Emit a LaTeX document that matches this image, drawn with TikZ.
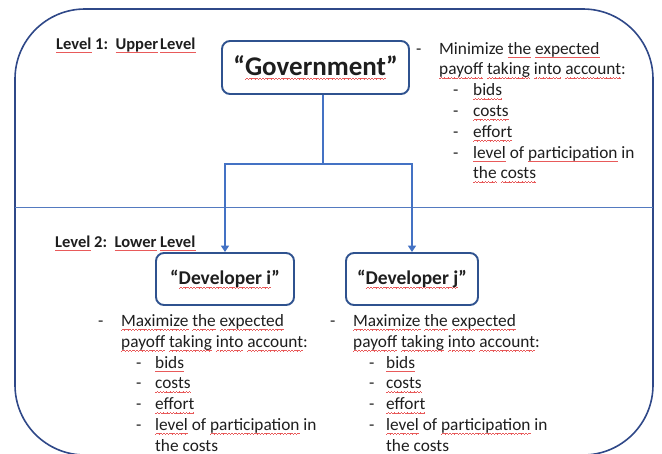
\documentclass[tikz,border=0pt]{standalone}
\usepackage{fontspec}
\setmainfont{Carlito}
\usetikzlibrary{arrows.meta}

\definecolor{framecol}{RGB}{47,72,136}
\definecolor{boxcol}{RGB}{47,82,143}
\definecolor{linkcol}{RGB}{68,114,196}
\definecolor{sepcol}{RGB}{84,122,192}
\definecolor{inkcol}{RGB}{30,30,30}
\definecolor{wavecol}{RGB}{232,90,90}

% one period of a small zig-zag built from short rules
\newsavebox\wavepiece
\sbox\wavepiece{\color{wavecol}%
  \rule[0pt]{0.8pt}{0.5pt}\rule[0.4pt]{0.8pt}{0.5pt}%
  \rule[0.8pt]{0.8pt}{0.5pt}\rule[0.4pt]{0.8pt}{0.5pt}}

% red wavy underline, as drawn by a spell checker
\newsavebox\wavedword
\newcommand\sq[1]{\leavevmode\sbox\wavedword{#1}%
  \rlap{\lower3.8pt\hbox to \wd\wavedword{\xleaders\copy\wavepiece\hfill}}%
  \usebox\wavedword}

\tikzset{
  frameline/.style={draw=framecol, line width=1.6pt},
  sepline/.style={draw=sepcol, line width=1pt},
  actor/.style={draw=boxcol, line width=1.9pt, rounded corners=8pt, fill=white,
    inner sep=0pt, align=center, text=inkcol, font=\bfseries},
  link/.style={draw=linkcol, line width=2.7pt},
  linkarrow/.style={link, -{Triangle[length=6.5pt,width=8pt]}},
  levellabel/.style={anchor=base west, inner sep=0pt, text=inkcol,
    font=\fontsize{16.5}{20}\selectfont\bfseries},
  goalblock/.style={anchor=base west, inner sep=0pt, text=inkcol,
    font=\fontsize{17.3}{20.8}\selectfont},
}

\begin{document}
\begin{tikzpicture}[x=1pt,y=-1pt]
\useasboundingbox (0,0) rectangle (662,453);

% outer frame and the line between the two levels
\draw[frameline, rounded corners=70pt] (15,9) rectangle (653,455);
\coordinate (sepL) at (15,207);
\coordinate (sepR) at (653,207);
\draw[sepline] (sepL) -- (sepR);

% level labels
\node[levellabel] (lvl1) at (56,49) {\sq{Level} 1:\ \ \sq{Upper}\hspace{0.12em}\sq{Level}};
\node[levellabel] (lvl2) at (55,247) {\sq{Level} 2:\ \ \sq{Lower} \sq{Level}};

% players
\node[actor, minimum width=187pt, minimum height=53pt,
      font=\fontsize{27}{31}\selectfont\bfseries] (gov) at (315.5,67.5)
      {“\sq{Government}”};
\node[actor, minimum width=138pt, minimum height=52pt,
      font=\fontsize{19.5}{23}\selectfont\bfseries] (devi) at (225,279)
      {“\sq{Developer i}”};
\node[actor, minimum width=132pt, minimum height=52pt,
      font=\fontsize{19.5}{23}\selectfont\bfseries] (devj) at (412,279)
      {“\sq{Developer j}”};

% hierarchy connectors
\coordinate (split) at (323,164);
\draw[link] (gov.south -| split) -- (split);
\draw[linkarrow] (split) -| (devi.north);
\draw[linkarrow] (split) -| (devj.north);

% objectives
\node[goalblock] (govgoal) at (416,54) {%
  \begin{tabular}[t]{@{}p{23pt}@{}p{14pt}@{}p{20pt}@{}l@{}}
  - & \multicolumn{3}{@{}l@{}}{Minimize \sq{the} \sq{expected}}\\
    & \multicolumn{3}{@{}l@{}}{\sq{payoff} \sq{taking} \sq{into} \sq{account}:}\\
    & & - & \sq{bids}\\
    & & - & \sq{costs}\\
    & & - & \sq{effort}\\
    & & - & \sq{level} of \sq{participation} in\\
    & & & \sq{the} \sq{costs}
  \end{tabular}};

\node[goalblock] (devigoal) at (98,326.5) {%
  \begin{tabular}[t]{@{}p{23pt}@{}p{15pt}@{}p{19pt}@{}l@{}}
  - & \multicolumn{3}{@{}l@{}}{\sq{Maximize} \sq{the} \sq{expected}}\\
    & \multicolumn{3}{@{}l@{}}{\sq{payoff} \sq{taking} \sq{into} \sq{account}:}\\
    & & - & \sq{bids}\\
    & & - & \sq{costs}\\
    & & - & \sq{effort}\\
    & & - & \sq{level} of \sq{participation} in\\
    & & & \sq{the} \sq{costs}
  \end{tabular}};

\node[goalblock] (devjgoal) at (330,326.5) {%
  \begin{tabular}[t]{@{}p{23pt}@{}p{16pt}@{}p{17pt}@{}l@{}}
  - & \multicolumn{3}{@{}l@{}}{\sq{Maximize} \sq{the} \sq{expected}}\\
    & \multicolumn{3}{@{}l@{}}{\sq{payoff} \sq{taking} \sq{into} \sq{account}:}\\
    & & - & \sq{bids}\\
    & & - & \sq{costs}\\
    & & - & \sq{effort}\\
    & & - & \sq{level} of \sq{participation} in\\
    & & & \sq{the} \sq{costs}
  \end{tabular}};
\end{tikzpicture}
\end{document}
